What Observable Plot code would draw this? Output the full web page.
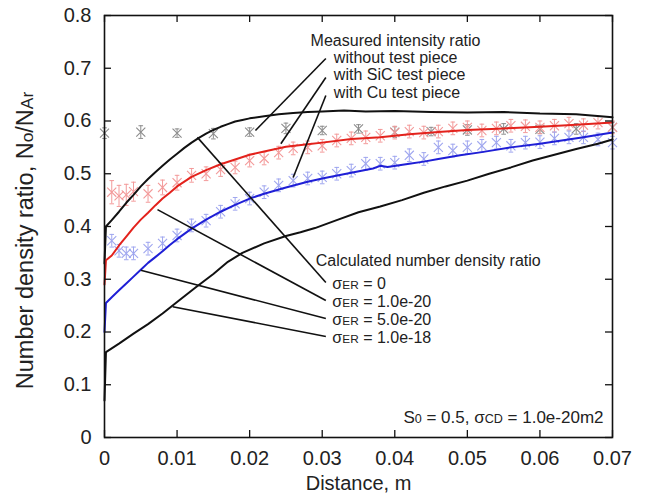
<!DOCTYPE html>
<html><head><meta charset="utf-8">
<script src="https://cdn.jsdelivr.net/npm/d3@7"></script>
<script src="https://cdn.jsdelivr.net/npm/@observablehq/plot@0.6"></script>
<style>body{margin:0;background:#fff}</style>
</head><body><div id="chart"></div>
<script>
// ---- axes ----
const xTicks = [0, 0.01, 0.02, 0.03, 0.04, 0.05, 0.06, 0.07];
const yTicks = [0, 0.1, 0.2, 0.3, 0.4, 0.5, 0.6, 0.7, 0.8];
const xLabel = "Distance, m";
const yLabel = "Number density ratio, No/NAr";

// ---- calculated number density ratio (lines) ----
const er0Dist  = [0, 0.0002, 0.001, 0.002, 0.003, 0.004, 0.005, 0.006, 0.007, 0.008, 0.009, 0.010, 0.011, 0.012, 0.013, 0.014, 0.015, 0.016, 0.017, 0.018, 0.019, 0.020, 0.022, 0.024, 0.026, 0.028, 0.030, 0.033, 0.036, 0.040, 0.045, 0.050, 0.055, 0.060, 0.065, 0.070];
const er0Ratio = [0.33, 0.400, 0.412, 0.428, 0.445, 0.460, 0.476, 0.490, 0.503, 0.515, 0.527, 0.538, 0.549, 0.559, 0.568, 0.576, 0.583, 0.589, 0.594, 0.599, 0.602, 0.605, 0.609, 0.613, 0.615, 0.617, 0.618, 0.620, 0.618, 0.619, 0.617, 0.616, 0.617, 0.614, 0.613, 0.607];

const er1e20Dist  = [0, 0.0002, 0.001, 0.002, 0.003, 0.004, 0.005, 0.006, 0.007, 0.008, 0.009, 0.010, 0.012, 0.014, 0.016, 0.018, 0.020, 0.022, 0.025, 0.028, 0.030, 0.034, 0.038, 0.042, 0.046, 0.050, 0.055, 0.060, 0.065, 0.070];
const er1e20Ratio = [0.29, 0.336, 0.345, 0.364, 0.381, 0.398, 0.413, 0.426, 0.440, 0.453, 0.464, 0.476, 0.494, 0.507, 0.518, 0.527, 0.536, 0.542, 0.551, 0.556, 0.559, 0.566, 0.569, 0.575, 0.579, 0.583, 0.586, 0.589, 0.593, 0.597];

const er5e20Dist  = [0, 0.0002, 0.001, 0.002, 0.003, 0.004, 0.005, 0.006, 0.007, 0.008, 0.009, 0.010, 0.012, 0.014, 0.016, 0.018, 0.020, 0.022, 0.025, 0.028, 0.030, 0.034, 0.037, 0.038, 0.039, 0.042, 0.044, 0.046, 0.049, 0.052, 0.056, 0.060, 0.063, 0.066, 0.070];
const er5e20Ratio = [0.20, 0.255, 0.266, 0.279, 0.292, 0.305, 0.318, 0.331, 0.342, 0.353, 0.365, 0.376, 0.396, 0.413, 0.428, 0.441, 0.453, 0.462, 0.474, 0.485, 0.491, 0.502, 0.510, 0.515, 0.513, 0.519, 0.523, 0.528, 0.535, 0.541, 0.550, 0.557, 0.563, 0.569, 0.578];

const er1e18Dist  = [0, 0.0002, 0.002, 0.004, 0.006, 0.008, 0.010, 0.0125, 0.015, 0.017, 0.019, 0.022, 0.025, 0.027, 0.029, 0.032, 0.035, 0.038, 0.041, 0.044, 0.047, 0.050, 0.053, 0.056, 0.059, 0.062, 0.065, 0.068, 0.070];
const er1e18Ratio = [0.07, 0.162, 0.178, 0.197, 0.215, 0.235, 0.257, 0.284, 0.310, 0.333, 0.350, 0.368, 0.382, 0.389, 0.397, 0.412, 0.427, 0.438, 0.450, 0.464, 0.476, 0.487, 0.500, 0.512, 0.525, 0.536, 0.547, 0.557, 0.565];

// ---- measured intensity ratio (markers + error bars) ----
const noPieceDist  = [0, 0.005, 0.010, 0.015, 0.020, 0.025, 0.030, 0.035, 0.040, 0.045, 0.050, 0.055, 0.060, 0.065, 0.070];
const noPieceRatio = [0.577, 0.579, 0.577, 0.576, 0.579, 0.586, 0.582, 0.585, 0.579, 0.580, 0.583, 0.585, 0.584, 0.585, 0.588];
const noPieceErr   = [0.010, 0.012, 0.008, 0.010, 0.008, 0.010, 0.008, 0.008, 0.010, 0.008, 0.010, 0.010, 0.008, 0.010, 0.010];

const sicDist  = [0.001, 0.002, 0.003, 0.004, 0.006, 0.008, 0.010, 0.012, 0.014, 0.016, 0.018, 0.020, 0.022, 0.024, 0.026, 0.028, 0.030, 0.032, 0.034, 0.036, 0.038, 0.040, 0.042, 0.044, 0.046, 0.048, 0.050, 0.052, 0.054, 0.056, 0.058, 0.060, 0.062, 0.064, 0.066, 0.068, 0.070];
const sicRatio = [0.465, 0.458, 0.460, 0.466, 0.462, 0.474, 0.483, 0.497, 0.500, 0.508, 0.512, 0.525, 0.529, 0.540, 0.548, 0.550, 0.553, 0.563, 0.567, 0.569, 0.572, 0.578, 0.580, 0.578, 0.580, 0.586, 0.588, 0.582, 0.586, 0.591, 0.590, 0.588, 0.591, 0.595, 0.592, 0.597, 0.588];
const sicErr   = [0.022, 0.020, 0.020, 0.018, 0.016, 0.014, 0.014, 0.013, 0.013, 0.013, 0.012, 0.012, 0.012, 0.012, 0.012, 0.012, 0.012, 0.012, 0.012, 0.012, 0.012, 0.012, 0.012, 0.012, 0.012, 0.012, 0.012, 0.012, 0.012, 0.012, 0.012, 0.012, 0.012, 0.012, 0.012, 0.012, 0.012];

const cuDist  = [0.001, 0.002, 0.003, 0.004, 0.006, 0.008, 0.010, 0.012, 0.014, 0.016, 0.018, 0.020, 0.022, 0.024, 0.026, 0.028, 0.030, 0.032, 0.034, 0.036, 0.038, 0.040, 0.042, 0.044, 0.046, 0.048, 0.050, 0.052, 0.054, 0.056, 0.058, 0.060, 0.062, 0.064, 0.066, 0.068, 0.070];
const cuRatio = [0.373, 0.354, 0.349, 0.349, 0.358, 0.368, 0.383, 0.402, 0.411, 0.428, 0.443, 0.453, 0.465, 0.478, 0.487, 0.491, 0.493, 0.500, 0.506, 0.519, 0.519, 0.521, 0.535, 0.528, 0.550, 0.544, 0.550, 0.553, 0.559, 0.553, 0.559, 0.560, 0.567, 0.569, 0.569, 0.565, 0.559];
const cuErr   = [0.012, 0.012, 0.012, 0.012, 0.012, 0.012, 0.012, 0.012, 0.012, 0.012, 0.012, 0.012, 0.012, 0.012, 0.012, 0.012, 0.012, 0.012, 0.012, 0.012, 0.012, 0.012, 0.012, 0.012, 0.012, 0.012, 0.012, 0.012, 0.012, 0.012, 0.012, 0.012, 0.012, 0.012, 0.012, 0.012, 0.012];

// ---- annotation texts (data coordinates of left end) ----
const noteText = ["Measured intensity ratio", "without test piece", "with SiC test piece", "with Cu test piece",
                  "Calculated number density ratio", "σER = 0", "σER = 1.0e-20", "σER = 5.0e-20", "σER = 1.0e-18"];
const noteX = [0.0284, 0.0316, 0.0316, 0.0316, 0.0291, 0.0314, 0.0314, 0.0314, 0.0314];
const noteY = [0.7526, 0.7204, 0.6882, 0.6541, 0.3355, 0.2919, 0.2578, 0.2237, 0.1896];
const paramText = "S0 = 0.5, σCD = 1.0e-20m2";

// ---- leader lines (from curve/marker to label) ----
const leadX1 = [0.0208, 0.0243, 0.0260, 0.0128, 0.0073, 0.0050, 0.0094];
const leadY1 = [0.582, 0.557, 0.493, 0.569, 0.432, 0.317, 0.248];
const leadX2 = [0.0305, 0.0305, 0.0305, 0.0305, 0.0305, 0.0305, 0.0305];
const leadY2 = [0.7185, 0.6825, 0.6483, 0.2938, 0.2597, 0.2256, 0.1915];

// ---- build tables ----
const zipLine = (xs, ys) => xs.map((x, i) => ({x, y: ys[i]}));
const zipPts = (xs, ys, es) => xs.map((x, i) => ({x, y: ys[i], lo: ys[i] - es[i], hi: ys[i] + es[i]}));
const curves = [
  {pts: zipLine(er0Dist, er0Ratio), color: "#111"},
  {pts: zipLine(er1e20Dist, er1e20Ratio), color: "#e3221c"},
  {pts: zipLine(er5e20Dist, er5e20Ratio), color: "#1f1fd6"},
  {pts: zipLine(er1e18Dist, er1e18Ratio), color: "#111"}
];
const measured = [
  {pts: zipPts(noPieceDist, noPieceRatio, noPieceErr), color: "#8c8c8c"},
  {pts: zipPts(sicDist, sicRatio, sicErr), color: "#f39a9a"},
  {pts: zipPts(cuDist, cuRatio, cuErr), color: "#9fa6ef"}
];
const notes = noteText.map((t, i) => ({t, x: noteX[i], y: noteY[i]}));
const leads = leadX1.map((x1, i) => ({x1, y1: leadY1[i], x2: leadX2[i], y2: leadY2[i]}));

const capSymbol = {draw(ctx, size) { const w = Math.sqrt(size) / 2; ctx.moveTo(-w, 0); ctx.lineTo(w, 0); }};

const W = 647, H = 501, mL = 104, mR = 35, mT = 15, mB = 64;
const innerW = W - mL - mR, innerH = H - mT - mB;

const marks = [];
for (const m of measured) {
  marks.push(Plot.ruleX(m.pts, {x: "x", y1: "lo", y2: "hi", stroke: m.color, strokeWidth: 1}));
  marks.push(Plot.dot(m.pts, {x: "x", y: "lo", symbol: capSymbol, r: 2.6, stroke: m.color, strokeWidth: 1}));
  marks.push(Plot.dot(m.pts, {x: "x", y: "hi", symbol: capSymbol, r: 2.6, stroke: m.color, strokeWidth: 1}));
  marks.push(Plot.dot(m.pts, {x: "x", y: "y", symbol: "times", r: 4.2, stroke: m.color, strokeWidth: 1.1}));
}
for (const c of curves) {
  marks.push(Plot.line(c.pts, {x: "x", y: "y", stroke: c.color, strokeWidth: 2}));
}
marks.push(
  Plot.link(leads, {x1: "x1", y1: "y1", x2: "x2", y2: "y2", stroke: "#111", strokeWidth: 1.6}),
  Plot.text(notes, {x: "x", y: "y", text: "t", textAnchor: "start", fontSize: 16, fill: "#222"}),
  Plot.text([paramText], {frameAnchor: "bottom-right", dx: -9, dy: -15, fontSize: 17, fill: "#222"}),
  // inward ticks on all four sides
  Plot.tickX(xTicks, {x: d => d, insetTop: innerH - 7, stroke: "#111", strokeWidth: 1.3}),
  Plot.tickX(xTicks, {x: d => d, insetBottom: innerH - 7, stroke: "#111", strokeWidth: 1.3}),
  Plot.tickY(yTicks, {y: d => d, insetRight: innerW - 7, stroke: "#111", strokeWidth: 1.3}),
  Plot.tickY(yTicks, {y: d => d, insetLeft: innerW - 7, stroke: "#111", strokeWidth: 1.3}),
  Plot.axisX({ticks: xTicks, tickSize: 0, tickPadding: 13, fontSize: 20, label: null, tickFormat: d => String(d), fill: "#222"}),
  Plot.axisY({ticks: yTicks, tickSize: 0, tickPadding: 13, fontSize: 20, label: null, tickFormat: d => String(d), fill: "#222"}),
  Plot.text([xLabel], {frameAnchor: "bottom", textAnchor: "middle", dy: 52, fontSize: 20, fill: "#222"}),
  Plot.text([yLabel], {frameAnchor: "left", textAnchor: "middle", rotate: -90, dx: -79, dy: 14, fontSize: 23.5, fill: "#222"}),
  Plot.frame({stroke: "#111", strokeWidth: 1.6})
);

const chart = Plot.plot({
  width: W, height: H,
  marginLeft: mL, marginRight: mR, marginTop: mT, marginBottom: mB,
  x: {domain: [0, 0.07], axis: null},
  y: {domain: [0, 0.8], axis: null},
  style: {fontFamily: "'Liberation Sans', Arial, Helvetica, sans-serif", background: "#fff"},
  marks
});

// smaller characters for subscripts (real text kept)
const SUBS = {
  "Number density ratio, No/NAr": [["Number density ratio, N"], ["o", 1], ["/N"], ["Ar", 1]],
  "σER = 0": [["σ"], ["ER", 1], [" = 0"]],
  "σER = 1.0e-20": [["σ"], ["ER", 1], [" = 1.0e-20"]],
  "σER = 5.0e-20": [["σ"], ["ER", 1], [" = 5.0e-20"]],
  "σER = 1.0e-18": [["σ"], ["ER", 1], [" = 1.0e-18"]],
  "S0 = 0.5, σCD = 1.0e-20m2": [["S"], ["0", 1], [" = 0.5, σ"], ["CD", 1], [" = 1.0e-20m2"]]
};
chart.querySelectorAll("text").forEach(t => {
  const parts = SUBS[t.textContent];
  if (!parts) return;
  t.textContent = "";
  for (const [s, small] of parts) {
    const ts = document.createElementNS("http://www.w3.org/2000/svg", "tspan");
    ts.textContent = s;
    if (small) ts.setAttribute("font-size", "0.74em");
    t.appendChild(ts);
  }
});
document.getElementById("chart").appendChild(chart);
</script>
</body></html>
